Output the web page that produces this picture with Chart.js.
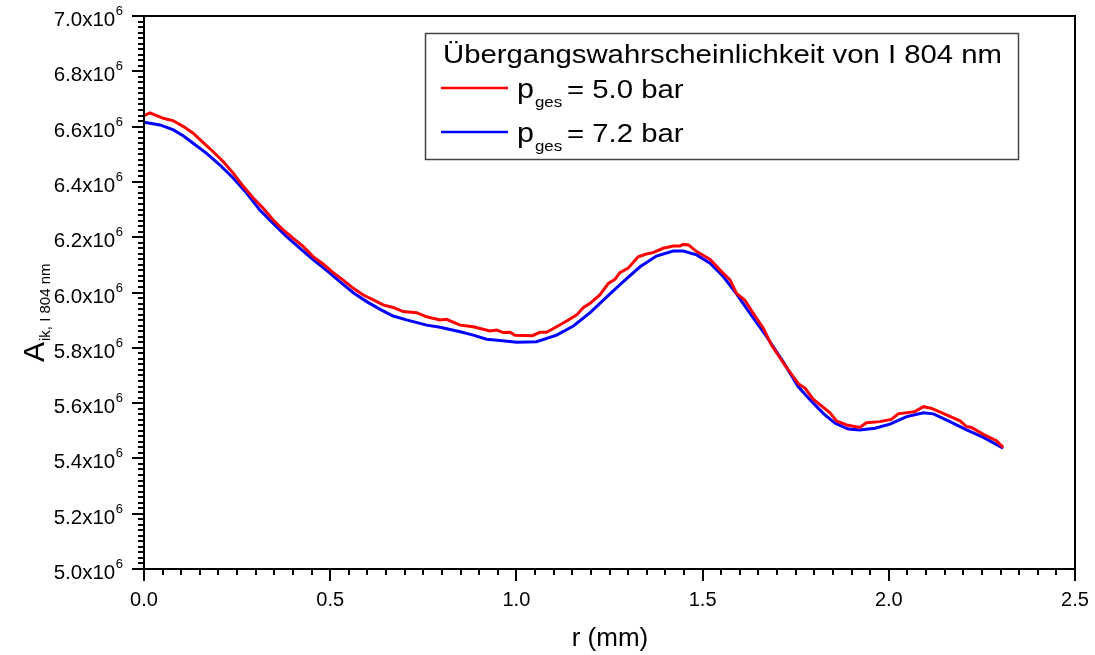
<!DOCTYPE html>
<html>
<head>
<meta charset="utf-8">
<script src="https://cdn.jsdelivr.net/npm/chart.js@4.4.1/dist/chart.umd.min.js"></script>
<style>
  body { margin: 0; background: #fff; }
  #wrap { width: 1095px; height: 655px; }
</style>
</head>
<body>
<div id="wrap"><canvas id="chart"></canvas></div>
<script>
// r in mm, A_ik in units of 1e6
const rRed = [0, 0.016, 0.052, 0.079, 0.106, 0.132, 0.159, 0.186, 0.213, 0.240, 0.267, 0.294, 0.320, 0.347, 0.374, 0.401, 0.428, 0.455, 0.481, 0.508,
  0.535, 0.562, 0.589, 0.616, 0.642, 0.669, 0.696, 0.732, 0.759, 0.795, 0.812, 0.849, 0.884, 0.929, 0.947, 0.965, 0.983, 0.996, 1.043, 1.063,
  1.081, 1.108, 1.135, 1.162, 1.180, 1.198, 1.224, 1.247, 1.265, 1.278, 1.300, 1.327, 1.349, 1.367, 1.394, 1.421, 1.439, 1.448, 1.462, 1.484,
  1.520, 1.547, 1.574, 1.591, 1.613, 1.636, 1.663, 1.685, 1.717, 1.757, 1.775, 1.797, 1.842, 1.860, 1.887, 1.922, 1.940, 1.976, 2.007, 2.025,
  2.070, 2.093, 2.115, 2.155, 2.191, 2.209, 2.222, 2.254, 2.289, 2.307];
const aRed = [6.640, 6.650, 6.630, 6.621, 6.600, 6.576, 6.542, 6.509, 6.473, 6.431, 6.383, 6.341, 6.305, 6.262, 6.226, 6.196, 6.166, 6.129, 6.103, 6.072,
  6.045, 6.015, 5.991, 5.973, 5.955, 5.946, 5.931, 5.927, 5.912, 5.901, 5.903, 5.882, 5.876, 5.861, 5.864, 5.855, 5.856, 5.845, 5.844, 5.856,
  5.856, 5.876, 5.897, 5.919, 5.946, 5.961, 5.991, 6.033, 6.048, 6.072, 6.088, 6.129, 6.139, 6.144, 6.160, 6.168, 6.168, 6.174, 6.172, 6.148,
  6.120, 6.081, 6.045, 5.997, 5.973, 5.925, 5.871, 5.810, 5.745, 5.670, 5.654, 5.614, 5.565, 5.535, 5.521, 5.512, 5.529, 5.533, 5.541, 5.561,
  5.569, 5.587, 5.581, 5.557, 5.536, 5.515, 5.512, 5.487, 5.464, 5.440];

const rBlue = [0, 0.043, 0.079, 0.106, 0.132, 0.168, 0.204, 0.240, 0.276, 0.311, 0.347, 0.383, 0.419, 0.455, 0.491, 0.526, 0.562, 0.598, 0.634, 0.669,
  0.705, 0.759, 0.795, 0.849, 0.884, 0.920, 0.956, 1.001, 1.054, 1.108, 1.153, 1.198, 1.242, 1.287, 1.332, 1.376, 1.421, 1.448, 1.484, 1.520,
  1.556, 1.591, 1.627, 1.672, 1.716, 1.757, 1.789, 1.824, 1.856, 1.891, 1.922, 1.963, 2.003, 2.048, 2.093, 2.120, 2.164, 2.209, 2.254, 2.307];
const aBlue = [6.616, 6.606, 6.588, 6.566, 6.540, 6.503, 6.461, 6.413, 6.359, 6.298, 6.250, 6.202, 6.160, 6.118, 6.079, 6.039, 5.999, 5.967, 5.939, 5.915,
  5.901, 5.882, 5.874, 5.858, 5.846, 5.831, 5.826, 5.820, 5.822, 5.846, 5.879, 5.927, 5.983, 6.039, 6.093, 6.132, 6.150, 6.150, 6.136, 6.106,
  6.057, 5.995, 5.925, 5.840, 5.750, 5.659, 5.611, 5.563, 5.527, 5.506, 5.503, 5.509, 5.524, 5.551, 5.565, 5.561, 5.533, 5.503, 5.476, 5.437];

const xTicks = [0.0, 0.5, 1.0, 1.5, 2.0, 2.5];
const yTicks = [5.0, 5.2, 5.4, 5.6, 5.8, 6.0, 6.2, 6.4, 6.6, 6.8, 7.0];
const legendTitle = 'Übergangswahrscheinlichkeit von I 804 nm';
const seriesLabels = ['= 5.0 bar', '= 7.2 bar'];
const seriesColors = ['#ff0000', '#0000ff'];

const FONT = '"Liberation Sans", Arial, sans-serif';

function pts(rs, as) {
    return rs.map((r, i) => ({ x: r, y: as[i] * 1e6 }));
}

// draws str (optionally stretched horizontally), returns its drawn width
function drawText(ctx, str, x, y, size, align, sx) {
    sx = sx || 1;
    ctx.font = size + 'px ' + FONT;
    const w = ctx.measureText(str).width * sx;
    let x0 = x;
    if (align === 'right') x0 = x - w;
    if (align === 'center') x0 = x - w / 2;
    ctx.save();
    ctx.translate(x0, y);
    ctx.scale(sx, 1);
    ctx.textAlign = 'left';
    ctx.textBaseline = 'alphabetic';
    ctx.fillText(str, 0, 0);
    ctx.restore();
    return w;
}

const axesPlugin = {
    id: 'originAxes',
    afterDraw(chart) {
        const ctx = chart.ctx;
        const a = chart.chartArea;
        const xs = chart.scales.x, ys = chart.scales.y;
        ctx.save();
        ctx.strokeStyle = '#000';
        ctx.fillStyle = '#000';
        ctx.lineWidth = 2;
        ctx.strokeRect(a.left, a.top, a.right - a.left, a.bottom - a.top);

        // y ticks, minor every 0.02e6
        ctx.beginPath();
        for (let i = 0; i <= 100; i++) {
            const y = Math.round(ys.getPixelForValue(5e6 + i * 0.02e6));
            const len = i % 10 === 0 ? 12 : 6;
            ctx.moveTo(a.left - len, y);
            ctx.lineTo(a.left, y);
        }
        // x ticks, minor every 0.05
        for (let i = 0; i <= 50; i++) {
            const x = Math.round(xs.getPixelForValue(i * 0.05));
            const len = i % 10 === 0 ? 12 : 6;
            ctx.moveTo(x, a.bottom);
            ctx.lineTo(x, a.bottom + len);
        }
        ctx.stroke();

        // y tick labels  N.Nx10^6
        yTicks.forEach(v => {
            const y = ys.getPixelForValue(v * 1e6);
            const right = a.left - 21;
            const supW = drawText(ctx, '6', right, y - 1, 13, 'right');
            drawText(ctx, v.toFixed(1) + 'x10', right - supW - 0.5, y + 10, 20.5, 'right');
        });

        // x tick labels
        xTicks.forEach(v => {
            drawText(ctx, v.toFixed(1), xs.getPixelForValue(v), 606, 20, 'center');
        });

        // axis titles
        drawText(ctx, 'r (mm)', 610, 646, 26, 'center');
        ctx.save();
        ctx.translate(44, 362);
        ctx.rotate(-Math.PI / 2);
        const aw = drawText(ctx, 'A', 0, 0, 30, 'left');
        drawText(ctx, 'ik, I 804 nm', aw + 1, 6, 15, 'left');
        ctx.restore();

        // legend
        ctx.lineWidth = 1.5;
        ctx.strokeStyle = '#444';
        ctx.strokeRect(425.5, 33.5, 593, 126);
        ctx.font = '26px ' + FONT;
        const sx = 559 / ctx.measureText(legendTitle).width;
        drawText(ctx, legendTitle, 443, 63, 26, 'left', sx);
        seriesLabels.forEach((lab, i) => {
            const ly = 88 + i * 44;
            ctx.strokeStyle = seriesColors[i];
            ctx.lineWidth = 2.5;
            ctx.beginPath();
            ctx.moveTo(441, ly);
            ctx.lineTo(508, ly);
            ctx.stroke();
            const pw = drawText(ctx, 'p', 517, ly + 10, 27, 'left', sx);
            drawText(ctx, 'ges', 517 + pw + 1, ly + 19, 15, 'left', sx);
            drawText(ctx, lab, 567, ly + 10, 26, 'left', sx);
        });
        ctx.restore();
    }
};

new Chart(document.getElementById('chart'), {
    type: 'line',
    data: {
        datasets: [
            { label: 'p_ges = 5.0 bar', data: pts(rRed, aRed), borderColor: seriesColors[0], borderWidth: 3, pointRadius: 0, tension: 0 },
            { label: 'p_ges = 7.2 bar', data: pts(rBlue, aBlue), borderColor: seriesColors[1], borderWidth: 3, pointRadius: 0, tension: 0 }
        ]
    },
    options: {
        responsive: true,
        maintainAspectRatio: false,
        animation: false,
        layout: { padding: { left: 144, top: 16, right: 20, bottom: 86 } },
        plugins: { legend: { display: false }, tooltip: { enabled: false } },
        scales: {
            x: { type: 'linear', min: 0, max: 2.5, display: false },
            y: { type: 'linear', min: 5e6, max: 7e6, display: false }
        }
    },
    plugins: [axesPlugin]
});
</script>
</body>
</html>
